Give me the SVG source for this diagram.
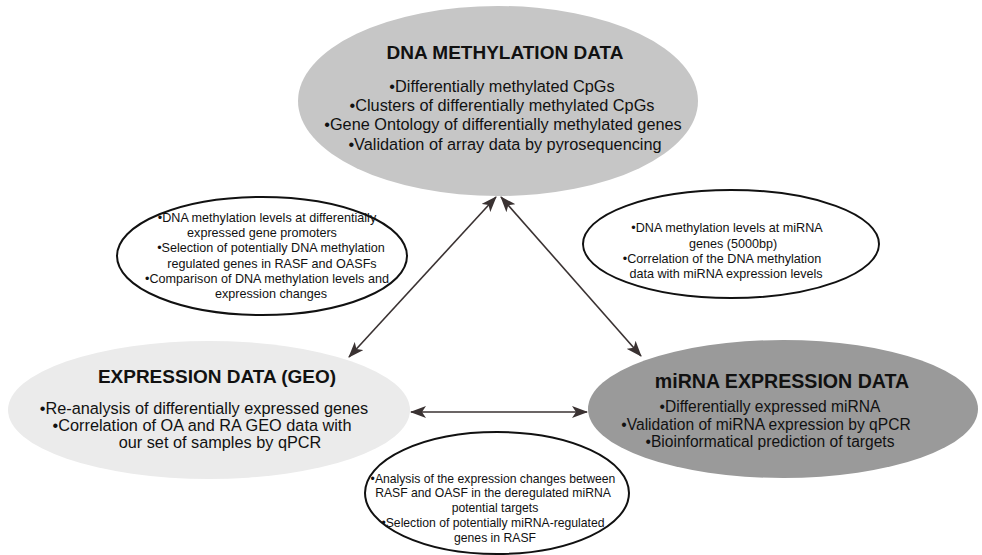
<svg xmlns="http://www.w3.org/2000/svg" width="982" height="555" viewBox="0 0 982 555">
<style>
.t{font-family:"Liberation Sans",Arial,sans-serif;fill:#111;text-anchor:middle}
.h{font-size:19px;font-weight:bold}
.b{font-size:16.3px}
.bm{font-size:15.6px}
.s{font-size:12.6px}
.sb{font-size:12.2px}
.sm{fill:#fff;stroke:#111;stroke-width:2}
.c{stroke:#3a3232;stroke-width:1.6;fill:none;marker-start:url(#ah);marker-end:url(#ah)}
</style>
<defs>
<marker id="ah" viewBox="0 0 16 12" refX="15" refY="6" markerWidth="16" markerHeight="12" markerUnits="userSpaceOnUse" orient="auto-start-reverse">
<path d="M0,0 L16,6 L0,12 L4,6 z" fill="#3a3232"/>
</marker>
</defs>
<rect width="982" height="555" fill="#fff"/>
<g id="connectors">
<line class="c" x1="496" y1="197" x2="349" y2="357"/>
<line class="c" x1="501" y1="197" x2="641" y2="356"/>
<line class="c" x1="411" y1="412" x2="587" y2="412"/>
</g>
<g id="dna-methylation">
<ellipse cx="498" cy="101" rx="200" ry="95" fill="#c6c6c6"/>
<text class="t h" x="505" y="59">DNA METHYLATION DATA</text>
<text class="t b" x="502" y="92">•Differentially methylated CpGs</text>
<text class="t b" x="502" y="111">•Clusters of differentially methylated CpGs</text>
<text class="t b" x="503" y="130">•Gene Ontology of differentially methylated genes</text>
<text class="t b" x="505" y="150">•Validation of array data by pyrosequencing</text>
</g>
<g id="expression-geo">
<ellipse cx="209" cy="410" rx="201" ry="69" fill="#ebebeb"/>
<text class="t h" x="217" y="383">EXPRESSION DATA (GEO)</text>
<text class="t b" x="204" y="414">•Re-analysis of differentially expressed genes</text>
<text class="t b" x="202" y="431">•Correlation of OA and RA GEO data with</text>
<text class="t b" x="220" y="448">our set of samples by qPCR</text>
</g>
<g id="mirna-expression">
<ellipse cx="783" cy="409" rx="195" ry="69" fill="#9a9a9a"/>
<text class="t h" x="782" y="388" style="font-size:19.6px">miRNA EXPRESSION DATA</text>
<text class="t bm" x="770" y="412">•Differentially expressed miRNA</text>
<text class="t bm" x="766" y="430">•Validation of miRNA expression by qPCR</text>
<text class="t bm" x="770" y="447">•Bioinformatical prediction of targets</text>
</g>
<g id="note-left">
<ellipse class="sm" cx="262" cy="256" rx="145" ry="59"/>
<text class="t s" x="267" y="222">•DNA methylation levels at differentially</text>
<text class="t s" x="262" y="237">expressed gene promoters</text>
<text class="t s" x="271" y="252">•Selection of potentially DNA methylation</text>
<text class="t s" x="272" y="268">regulated genes in RASF and OASFs</text>
<text class="t s" x="267" y="283">•Comparison of DNA methylation levels and</text>
<text class="t s" x="271" y="298">expression changes</text>
</g>
<g id="note-right">
<ellipse class="sm" cx="731" cy="244" rx="148" ry="54"/>
<text class="t s" x="727" y="232">•DNA methylation levels at miRNA</text>
<text class="t s" x="733" y="248">genes (5000bp)</text>
<text class="t s" x="722" y="263">•Correlation of the DNA methylation</text>
<text class="t s" x="726" y="278">data with miRNA expression levels</text>
</g>
<g id="note-bottom">
<ellipse class="sm" cx="497" cy="493" rx="132" ry="61"/>
<text class="t sb" x="493" y="483">•Analysis of the expression changes between</text>
<text class="t sb" x="493" y="497">RASF and OASF in the deregulated miRNA</text>
<text class="t sb" x="495" y="512">potential targets</text>
<text class="t sb" x="493" y="527">•Selection of potentially miRNA-regulated</text>
<text class="t sb" x="495" y="542">genes in RASF</text>
</g>
</svg>
